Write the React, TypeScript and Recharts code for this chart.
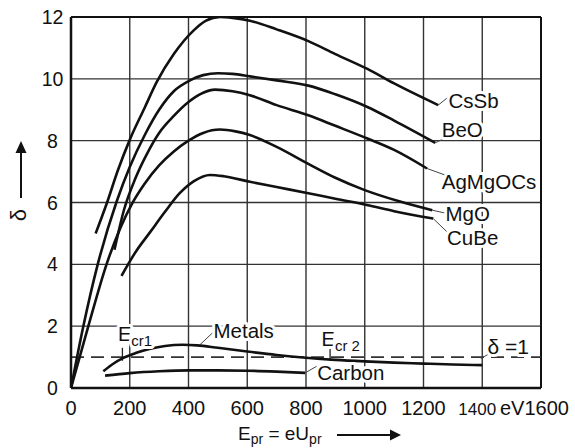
import { LineChart, Line, XAxis, YAxis, CartesianGrid, ReferenceLine, ReferenceDot } from "recharts";

const energyTicks = [0, 200, 400, 600, 800, 1000, 1200, 1400, 1600];
const deltaTicks = [0, 2, 4, 6, 8, 10, 12];

// secondary emission yield, pairs of [E_pr in eV, delta]
const csSb = [
  [84, 5.0], [121, 5.95], [160, 7.05], [201, 8.05], [250, 9.05], [292, 9.9], [350, 10.8],
  [416, 11.55], [460, 11.88], [507, 12.0], [550, 11.97], [609, 11.88], [700, 11.6],
  [808, 11.22], [900, 10.8], [1009, 10.32], [1100, 9.85], [1250, 9.15],
];
const beO = [
  [0, 0], [42, 2], [91, 4], [156, 6.05], [200, 7.15], [252, 8.2], [300, 9.0], [350, 9.6],
  [405, 9.95], [450, 10.12], [500, 10.18], [550, 10.16], [609, 10.08], [700, 9.95],
  [808, 9.78], [900, 9.5], [1009, 9.09], [1100, 8.65], [1240, 7.93],
];
const agMgOCs = [
  [148, 4.47], [180, 5.75], [220, 6.8], [260, 7.6], [300, 8.25], [350, 8.8], [400, 9.25],
  [450, 9.55], [490, 9.65], [550, 9.6], [609, 9.47], [700, 9.15], [808, 8.82], [900, 8.48],
  [1009, 8.07], [1100, 7.7], [1212, 7.1],
];
const mgO = [
  [0, 0], [59, 2], [121, 4], [207, 5.95], [250, 6.6], [300, 7.2], [350, 7.65], [400, 8.0],
  [450, 8.25], [507, 8.36], [560, 8.3], [609, 8.18], [700, 7.8], [808, 7.25], [900, 6.8],
  [1000, 6.4], [1120, 6.03], [1230, 5.75],
];
const cuBe = [
  [172, 3.63], [220, 4.4], [270, 5.05], [320, 5.7], [370, 6.3], [420, 6.7], [473, 6.89],
  [520, 6.85], [609, 6.67], [700, 6.5], [808, 6.3], [900, 6.12], [1007, 5.92], [1100, 5.72],
  [1233, 5.48],
];
const metals = [
  [110, 0.54], [140, 0.76], [180, 0.98], [220, 1.13], [270, 1.27], [320, 1.36], [380, 1.4],
  [430, 1.38], [500, 1.3], [600, 1.18], [700, 1.07], [800, 0.98], [900, 0.91], [1000, 0.86],
  [1100, 0.82], [1200, 0.79], [1300, 0.76], [1400, 0.74],
];
const carbon = [
  [116, 0.4], [200, 0.48], [300, 0.54], [400, 0.57], [500, 0.57], [600, 0.56], [700, 0.53],
  [797, 0.49],
];

const curves = [csSb, beO, agMgOCs, mgO, cuBe, metals, carbon];

// annotation texts: [text, E, delta] (left edge, vertical middle)
const curveLabels: [string, number, number][] = [
  ["CsSb", 1285, 9.3],
  ["BeO", 1262, 8.37],
  ["AgMgOCs", 1262, 6.67],
  ["MgO", 1275, 5.63],
  ["CuBe", 1280, 4.85],
  ["Metals", 485, 1.84],
  ["Carbon", 838, 0.5],
];

// leader lines [E1, d1, E2, d2]
const leaders = [
  [1250, 9.15, 1283, 9.4],
  [1240, 7.93, 1273, 8.08],
  [1212, 7.1, 1273, 6.89],
  [1230, 5.75, 1273, 5.66],
  [1233, 5.48, 1279, 5.06],
  [1395, 0.95, 1425, 1.12],
  [439, 1.4, 487, 1.83],
  [797, 0.49, 836, 0.7],
];

// critical energies (E_cr1, E_cr2)
const criticalE = [175, 882];

const font = '"Liberation Sans", Arial, Helvetica, sans-serif';

const toPoints = (s: number[][]) => s.map(([e, d]) => ({ e, d }));

function EnergyTick({ x, y, payload }: any) {
  const v = payload.value;
  if (v === 1600) {
    return (
      <text x={x - 41} y={y + 27} fontSize={20} fontFamily={font} fill="#111">
        eV1600
      </text>
    );
  }
  return (
    <text
      x={v === 1400 ? x - 5 : x}
      y={y + 27}
      textAnchor="middle"
      fontSize={v === 1400 ? 17 : 20}
      fontFamily={font}
      fill="#111"
    >
      {v}
    </text>
  );
}

function DeltaTick({ x, y, payload }: any) {
  return (
    <text x={x - 18.5} y={y} dy="0.36em" textAnchor="middle" fontSize={19.5} fontFamily={font} fill="#111">
      {payload.value}
    </text>
  );
}

const haloProps = {
  stroke: "#fff",
  strokeWidth: 6,
  paintOrder: "stroke" as const,
  strokeLinejoin: "round" as const,
};

function LabelText(text: string) {
  return (props: any) => (
    <text x={props.cx} y={props.cy} dy="0.36em" fontSize={20.5} fontFamily={font} fill="#111" {...haloProps}>
      {text}
    </text>
  );
}

function EcrText(sub: string) {
  return (props: any) => (
    <text x={props.cx} y={props.cy} dy="0.36em" fontSize={20} fontFamily={font} fill="#111" {...haloProps}>
      E
      <tspan fontSize={15} dy={5}>
        {sub}
      </tspan>
    </text>
  );
}

function DeltaOneText(props: any) {
  return (
    <text x={props.cx} y={props.cy} dy="0.36em" fontSize={21} fontFamily={font} fill="#111" {...haloProps}>
      δ =1
    </text>
  );
}

export default function App() {
  return (
    <div style={{ position: "absolute", left: 0, top: 0, width: 575, height: 448, background: "#fff" }}>
      <LineChart width={575} height={448} margin={{ top: 17, right: 34, bottom: 30, left: 0 }}>
        <CartesianGrid stroke="#333" strokeWidth={1.4} />
        <XAxis
          dataKey="e"
          type="number"
          domain={[0, 1600]}
          ticks={energyTicks}
          tick={<EnergyTick />}
          tickSize={0}
          tickMargin={0}
          height={30}
          axisLine={{ stroke: "#111", strokeWidth: 2.5 }}
          allowDataOverflow
        />
        <YAxis
          dataKey="d"
          type="number"
          domain={[0, 12]}
          ticks={deltaTicks}
          tick={<DeltaTick />}
          tickSize={0}
          tickMargin={0}
          width={71}
          axisLine={{ stroke: "#111", strokeWidth: 2.5 }}
          allowDataOverflow
        />
        <ReferenceLine y={12} stroke="#111" strokeWidth={2} />
        <ReferenceLine x={1600} stroke="#111" strokeWidth={2} />
        <ReferenceLine y={1} stroke="#333" strokeWidth={1.6} strokeDasharray="13 7" />
        {leaders.map(([e1, d1, e2, d2], i) => (
          <ReferenceLine
            key={`ld${i}`}
            segment={[
              { x: e1, y: d1 },
              { x: e2, y: d2 },
            ]}
            stroke="#444"
            strokeWidth={1}
          />
        ))}
        {criticalE.map((e, i) => (
          <ReferenceLine
            key={`cr${i}`}
            segment={[
              { x: e, y: 0.88 },
              { x: e, y: 1.3 },
            ]}
            stroke="#222"
            strokeWidth={1.3}
          />
        ))}
        {curves.map((c, i) => (
          <Line
            key={i}
            data={toPoints(c)}
            dataKey="d"
            type="monotone"
            stroke="#111"
            strokeWidth={2.6}
            dot={false}
            isAnimationActive={false}
          />
        ))}
        {curveLabels.map(([t, e, d]) => (
          <ReferenceDot key={t} x={e} y={d} r={0} shape={LabelText(t)} />
        ))}
        <ReferenceDot x={160} y={1.75} r={0} shape={EcrText("cr1")} />
        <ReferenceDot x={853} y={1.6} r={0} shape={EcrText("cr 2")} />
        <ReferenceDot x={1418} y={1.36} r={0} shape={DeltaOneText} />
      </LineChart>
      <svg width={575} height={448} style={{ position: "absolute", left: 0, top: 0, pointerEvents: "none" }}>
        <g fontFamily={font} fill="#111">
          <text x={238} y={440} fontSize={19}>
            E<tspan fontSize={14} dy={4}>pr</tspan>
            <tspan fontSize={19} dy={-4}> = eU</tspan>
            <tspan fontSize={14} dy={4}>pr</tspan>
          </text>
          <line x1={337} y1={435} x2={392} y2={435} stroke="#111" strokeWidth={2} />
          <polygon points="390,429.5 401,435 390,440.5" />
          <line x1={21} y1={150} x2={21} y2={198} stroke="#111" strokeWidth={2} />
          <polygon points="15.5,153 21,141 26.5,153" />
          <text x={0} y={0} fontSize={22} transform="translate(26,215) rotate(-90)" textAnchor="middle">
            δ
          </text>
        </g>
      </svg>
    </div>
  );
}
